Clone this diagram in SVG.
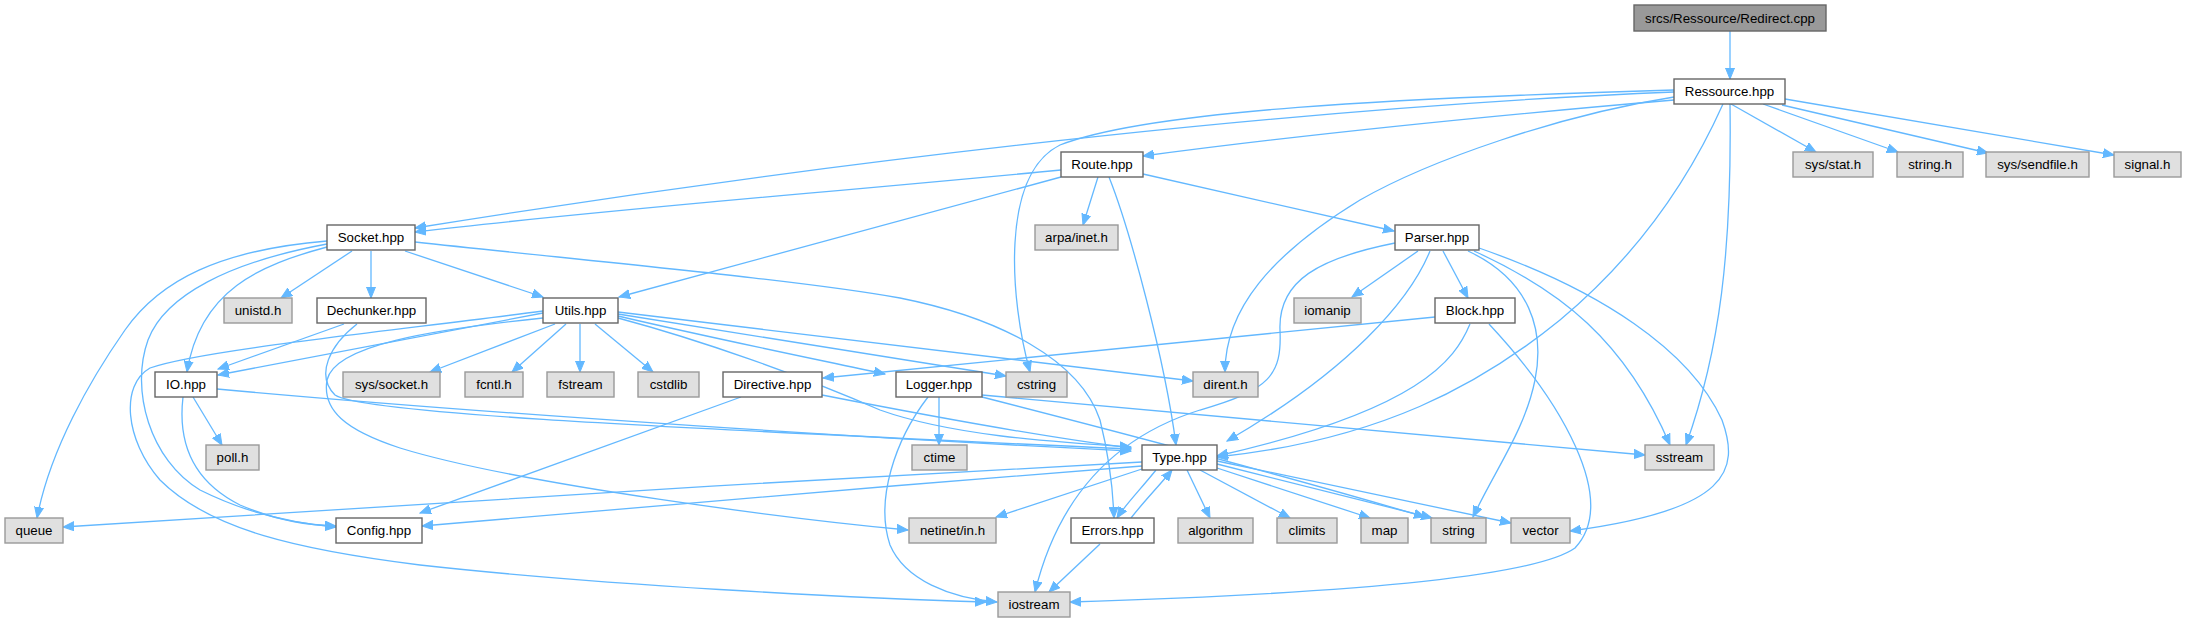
<svg xmlns="http://www.w3.org/2000/svg" width="2186" height="623" viewBox="0 0 2186 623">
<style>
.n rect{fill:#ffffff;stroke:#666666;stroke-width:1.4}
.e rect{fill:#e0e0e0;stroke:#999999;stroke-width:1.4}
.m rect{fill:#999999;stroke:#666666;stroke-width:1.4}
text{font-family:"Liberation Sans",Arial,sans-serif;font-size:13.3px;text-anchor:middle;fill:#000000}
#edges path{fill:none;stroke:#63b8ff;stroke-width:1.3;marker-end:url(#arr)}
</style>
<defs>
<marker id="arr" markerUnits="userSpaceOnUse" markerWidth="12" markerHeight="10" refX="11" refY="5" orient="auto">
<path d="M0,0.5 L11,5 L0,9.5 Z" fill="#63b8ff" stroke="#63b8ff" stroke-width="1"/>
</marker>
</defs>
<rect width="2186" height="623" fill="#ffffff"/>
<g id="edges">
<path d="M1730,31 L1730,79"/>
<path d="M1674,100 C1500,115 1300,135 1143,156"/>
<path d="M1674,92 C1350,105 900,150 415,228"/>
<path d="M1731,104 L1816,152"/>
<path d="M1763,104 L1898,152"/>
<path d="M1782,105 L1988,153"/>
<path d="M1785,99 L2114,155"/>
<path d="M1674,90 C1400,98 1150,110 1060,145 C1000,175 1010,300 1030,372"/>
<path d="M1674,97 C1560,115 1430,160 1360,200 C1270,255 1225,310 1225,372"/>
<path d="M1723,104 C1680,200 1620,270 1560,320 C1480,385 1380,440 1217,457"/>
<path d="M1730,104 C1732,250 1720,350 1686,445"/>
<path d="M1061,170 C800,195 600,210 415,232"/>
<path d="M1061,177 L619,297"/>
<path d="M1098,177 L1083,225"/>
<path d="M1109,177 C1130,230 1165,360 1176,445"/>
<path d="M1143,174 L1394,231"/>
<path d="M352,251 L281,298"/>
<path d="M371,251 L371,298"/>
<path d="M405,251 L543,297"/>
<path d="M327,247 C260,265 200,290 187,372"/>
<path d="M327,241 C220,250 160,280 125,330 C90,380 50,450 37,518"/>
<path d="M327,244 C230,262 165,295 148,340 C130,390 150,460 200,490 C250,515 300,524 336,527"/>
<path d="M415,242 C600,262 800,280 900,298 C1000,318 1080,360 1100,420 C1110,460 1113,490 1114,518"/>
<path d="M344,324 L218,369"/>
<path d="M357,324 C330,345 315,375 335,395 C360,412 600,425 1131,449"/>
<path d="M543,313 L218,375"/>
<path d="M543,318 C430,330 335,345 327,380 C322,410 345,430 400,448 C520,485 800,520 908,530"/>
<path d="M543,311 C400,330 200,350 150,368 C120,385 125,440 160,480 C210,530 300,550 420,565 C600,585 850,598 986,602"/>
<path d="M555,324 L430,372"/>
<path d="M566,324 L512,372"/>
<path d="M580,324 L580,372"/>
<path d="M595,324 L653,372"/>
<path d="M618,316 C720,340 820,360 885,374"/>
<path d="M618,314 L1006,376"/>
<path d="M618,312 L1193,381"/>
<path d="M618,318 C700,340 800,375 880,410 C950,435 1050,442 1131,447"/>
<path d="M193,397 L222,445"/>
<path d="M183,397 C178,440 190,480 240,505 C280,522 310,525 336,526"/>
<path d="M217,389 C500,415 900,440 1131,451"/>
<path d="M1418,251 L1352,297"/>
<path d="M1443,251 L1468,298"/>
<path d="M1430,251 C1410,300 1350,370 1227,441"/>
<path d="M1395,243 C1320,258 1278,280 1280,330 C1282,375 1270,390 1200,410 C1120,435 1060,490 1035,592"/>
<path d="M1468,251 C1530,280 1545,330 1535,380 C1525,430 1495,470 1473,517"/>
<path d="M1474,251 C1560,290 1625,340 1670,445"/>
<path d="M1479,248 C1600,290 1690,350 1722,420 C1740,470 1730,510 1570,531"/>
<path d="M1435,317 L823,378"/>
<path d="M1470,324 C1455,360 1420,410 1217,456"/>
<path d="M1489,324 C1560,400 1620,500 1575,548 C1530,580 1300,595 1070,602"/>
<path d="M822,395 C950,420 1050,438 1131,448"/>
<path d="M741,397 L420,513"/>
<path d="M939,397 L939,445"/>
<path d="M928,397 C895,440 875,500 890,545 C905,580 950,598 997,602"/>
<path d="M982,395 L1645,455"/>
<path d="M982,397 C1150,440 1300,480 1425,517"/>
<path d="M1142,462 C800,480 300,510 63,527"/>
<path d="M1142,466 C900,485 600,510 422,526"/>
<path d="M1142,469 L996,517"/>
<path d="M1156,470 C1140,490 1125,505 1117,518"/>
<path d="M1131,518 C1145,500 1160,485 1172,470"/>
<path d="M1187,470 L1210,518"/>
<path d="M1200,470 L1290,518"/>
<path d="M1217,468 L1370,518"/>
<path d="M1217,464 L1432,518"/>
<path d="M1217,461 L1511,523"/>
<path d="M1100,544 L1049,592"/>
</g>
<g id="node-redirect" class="m"><rect x="1634" y="5" width="192" height="26"/><text x="1730" y="22.5">srcs/Ressource/Redirect.cpp</text></g>
<g id="node-ressource" class="n"><rect x="1674" y="79" width="111" height="25"/><text x="1729.5" y="96">Ressource.hpp</text></g>
<g id="node-sysstat" class="e"><rect x="1793" y="152" width="80" height="25"/><text x="1833" y="169">sys/stat.h</text></g>
<g id="node-stringh" class="e"><rect x="1897" y="152" width="66" height="25"/><text x="1930" y="169">string.h</text></g>
<g id="node-sendfile" class="e"><rect x="1986" y="152" width="103" height="25"/><text x="2037.5" y="169">sys/sendfile.h</text></g>
<g id="node-signal" class="e"><rect x="2114" y="152" width="67" height="25"/><text x="2147.5" y="169">signal.h</text></g>
<g id="node-route" class="n"><rect x="1061" y="152" width="82" height="25"/><text x="1102" y="169">Route.hpp</text></g>
<g id="node-arpa" class="e"><rect x="1035" y="225" width="83" height="25"/><text x="1076.5" y="242">arpa/inet.h</text></g>
<g id="node-parser" class="n"><rect x="1395" y="225" width="84" height="25"/><text x="1437" y="242">Parser.hpp</text></g>
<g id="node-socket" class="n"><rect x="327" y="225" width="88" height="25"/><text x="371" y="242">Socket.hpp</text></g>
<g id="node-unistd" class="e"><rect x="224" y="298" width="68" height="25"/><text x="258" y="315">unistd.h</text></g>
<g id="node-dechunker" class="n"><rect x="317" y="298" width="109" height="25"/><text x="371.5" y="315">Dechunker.hpp</text></g>
<g id="node-utils" class="n"><rect x="543" y="298" width="75" height="25"/><text x="580.5" y="315">Utils.hpp</text></g>
<g id="node-iomanip" class="e"><rect x="1294" y="298" width="67" height="25"/><text x="1327.5" y="315">iomanip</text></g>
<g id="node-block" class="n"><rect x="1435" y="298" width="80" height="25"/><text x="1475" y="315">Block.hpp</text></g>
<g id="node-io" class="n"><rect x="155" y="372" width="62" height="25"/><text x="186" y="389">IO.hpp</text></g>
<g id="node-syssocket" class="e"><rect x="343" y="372" width="97" height="25"/><text x="391.5" y="389">sys/socket.h</text></g>
<g id="node-fcntl" class="e"><rect x="465" y="372" width="58" height="25"/><text x="494" y="389">fcntl.h</text></g>
<g id="node-fstream" class="e"><rect x="547" y="372" width="67" height="25"/><text x="580.5" y="389">fstream</text></g>
<g id="node-cstdlib" class="e"><rect x="638" y="372" width="61" height="25"/><text x="668.5" y="389">cstdlib</text></g>
<g id="node-directive" class="n"><rect x="723" y="372" width="99" height="25"/><text x="772.5" y="389">Directive.hpp</text></g>
<g id="node-logger" class="n"><rect x="896" y="372" width="86" height="25"/><text x="939" y="389">Logger.hpp</text></g>
<g id="node-cstring" class="e"><rect x="1006" y="372" width="61" height="25"/><text x="1036.5" y="389">cstring</text></g>
<g id="node-dirent" class="e"><rect x="1193" y="372" width="65" height="25"/><text x="1225.5" y="389">dirent.h</text></g>
<g id="node-poll" class="e"><rect x="206" y="445" width="53" height="25"/><text x="232.5" y="462">poll.h</text></g>
<g id="node-ctime" class="e"><rect x="912" y="445" width="55" height="25"/><text x="939.5" y="462">ctime</text></g>
<g id="node-type" class="n"><rect x="1142" y="445" width="75" height="25"/><text x="1179.5" y="462">Type.hpp</text></g>
<g id="node-sstream" class="e"><rect x="1645" y="445" width="69" height="25"/><text x="1679.5" y="462">sstream</text></g>
<g id="node-queue" class="e"><rect x="5" y="518" width="58" height="25"/><text x="34" y="535">queue</text></g>
<g id="node-config" class="n"><rect x="336" y="518" width="86" height="25"/><text x="379" y="535">Config.hpp</text></g>
<g id="node-netinet" class="e"><rect x="909" y="518" width="87" height="25"/><text x="952.5" y="535">netinet/in.h</text></g>
<g id="node-errors" class="n"><rect x="1071" y="518" width="83" height="25"/><text x="1112.5" y="535">Errors.hpp</text></g>
<g id="node-algorithm" class="e"><rect x="1178" y="518" width="75" height="25"/><text x="1215.5" y="535">algorithm</text></g>
<g id="node-climits" class="e"><rect x="1277" y="518" width="60" height="25"/><text x="1307" y="535">climits</text></g>
<g id="node-map" class="e"><rect x="1361" y="518" width="47" height="25"/><text x="1384.5" y="535">map</text></g>
<g id="node-string" class="e"><rect x="1431" y="518" width="55" height="25"/><text x="1458.5" y="535">string</text></g>
<g id="node-vector" class="e"><rect x="1511" y="518" width="59" height="25"/><text x="1540.5" y="535">vector</text></g>
<g id="node-iostream" class="e"><rect x="998" y="592" width="72" height="25"/><text x="1034" y="609">iostream</text></g>
</svg>
